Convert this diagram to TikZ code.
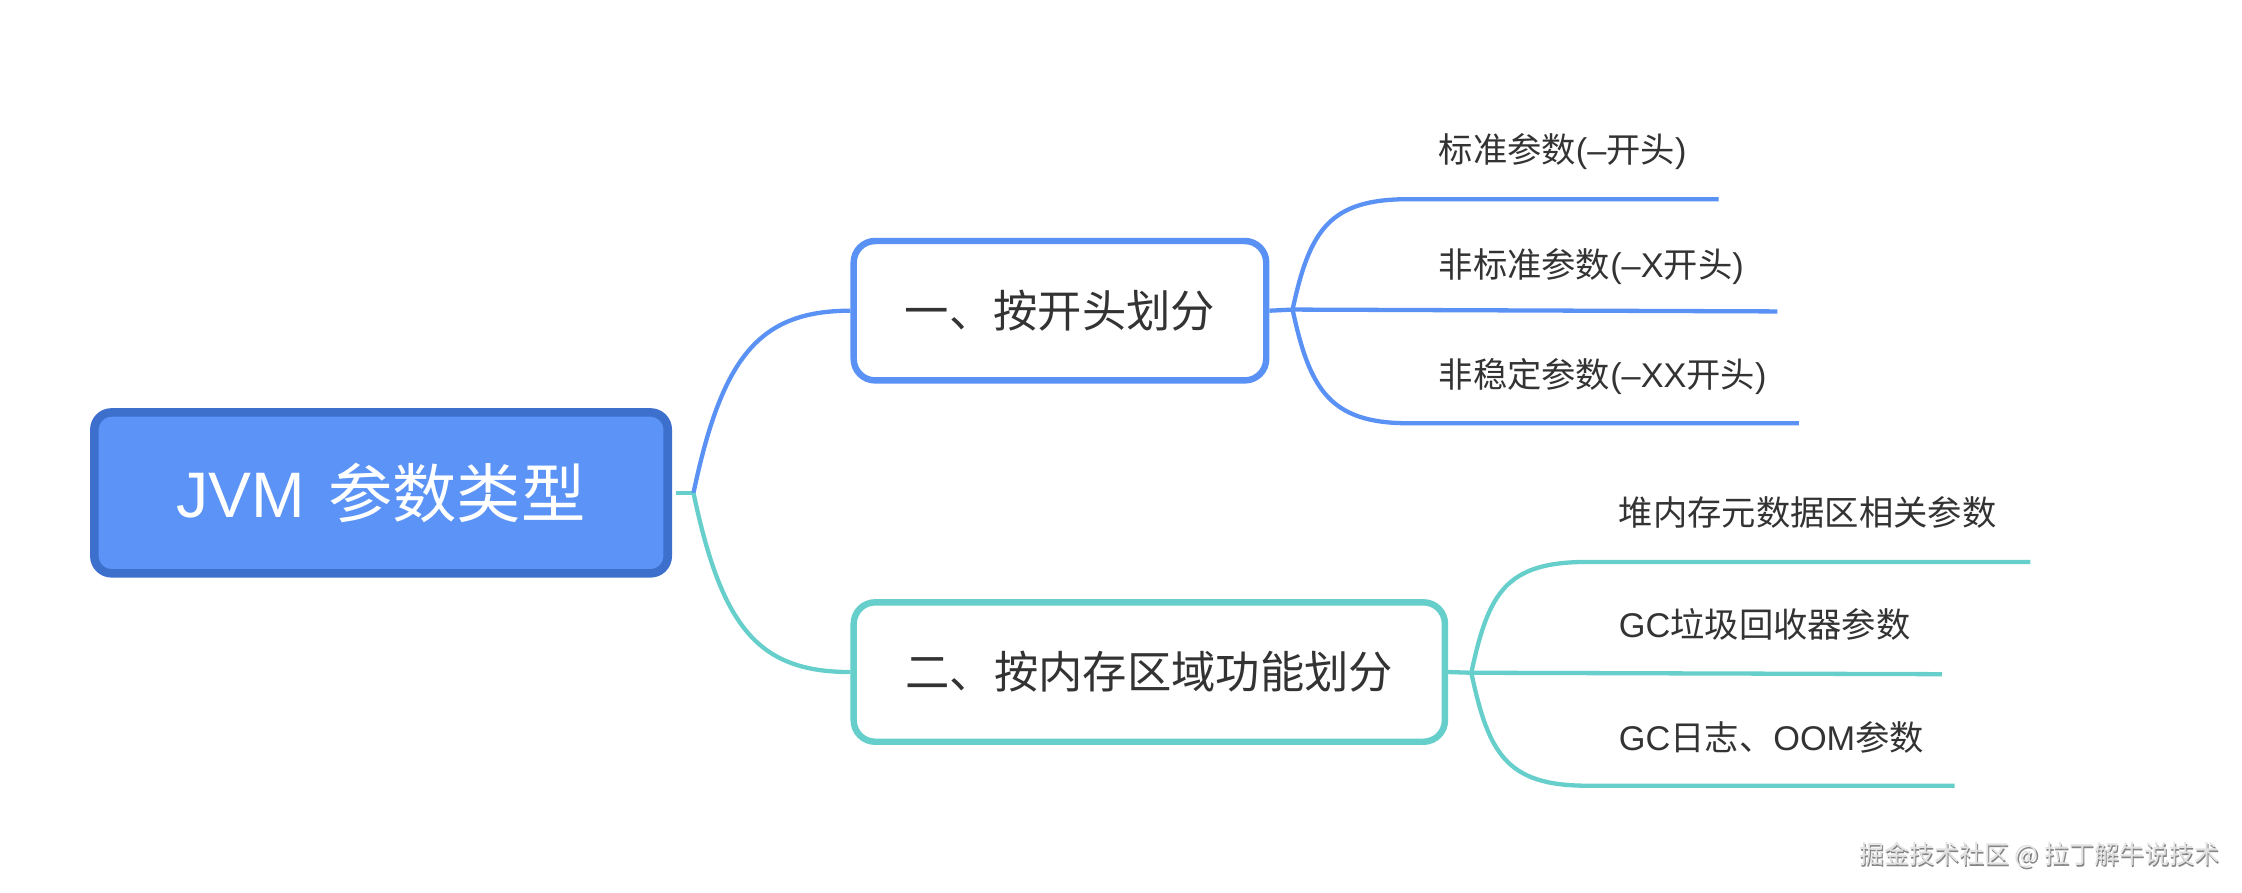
\documentclass[tikz,border=0pt]{standalone}
\usepackage{fontspec}
\setmainfont{Noto Sans CJK SC}
\newfontfamily\latf{Liberation Sans}
\newcommand\lt[1]{{\latf #1}}
\definecolor{mblue}{HTML}{5A91F5}
\definecolor{rootfill}{HTML}{5B93F6}
\definecolor{rootline}{HTML}{3D6FCD}
\definecolor{mteal}{HTML}{66CFCB}
\definecolor{txt}{HTML}{333333}
\definecolor{wmshadow}{HTML}{858585}
\definecolor{wmface}{HTML}{E2E2E2}
\tikzset{
  rootbox/.style={rectangle, rounded corners=12pt, fill=rootfill, draw=rootline,
    line width=6pt, minimum width=401pt, minimum height=112.5pt, inner sep=0pt,
    text=white, font=\fontsize{45}{50}\selectfont},
  subbox/.style={rectangle, rounded corners=15pt, fill=white, line width=4.5pt,
    minimum height=97.5pt, inner sep=0pt, text=txt, font=\fontsize{31}{36}\selectfont},
  leaftext/.style={anchor=base west, inner sep=0pt, text=txt, font=\fontsize{24}{28}\selectfont},
  conn/.style={line width=3pt},
  wmtext/.style={anchor=base west, inner sep=0pt, font=\fontsize{17.5}{20}\selectfont},
}
\begin{document}
\begin{tikzpicture}[x=1pt,y=-1pt]
\useasboundingbox[fill=white] (0,0) rectangle (1568,624);

% main nodes
\node[rootbox] (root) at (266.5,344.7) {\lt{JVM\hspace{0.36em}}参数类型};
\node[subbox, draw=mblue, minimum width=288.5pt] (b1) at (741.3,217.3) {一、按开头划分};
\node[subbox, draw=mteal, minimum width=413.5pt] (b2) at (803.8,470) {二、按内存区域功能划分};

% junctions and leaf line ends
\coordinate (rj) at (485,344.7);
\coordinate (j1) at (904,216.5);
\coordinate (j2) at (1029,470.5);
\coordinate (a1s) at (985,139.3);
\coordinate (a1e) at (1202,139.3);
\coordinate (a2e) at (1243,217.8);
\coordinate (a3s) at (985,296);
\coordinate (a3e) at (1258,296);
\coordinate (c1s) at (1110,393);
\coordinate (c1e) at (1420,393);
\coordinate (c2e) at (1358,471.5);
\coordinate (c3s) at (1110,549.5);
\coordinate (c3e) at (1367,549.5);

% root connectors
\draw[conn, mteal] ([xshift=3pt]root.east) -- (rj);
\draw[conn, mblue] (rj) .. controls +(20,-95) and +(-64,0) .. (b1.west);
\draw[conn, mteal] (rj) .. controls +(20,95) and +(-64,0) .. (b2.west);

% first group
\draw[conn, mblue] (b1.east) -- (j1);
\draw[conn, mblue] (j1) .. controls +(12,-56) and +(-55,0) .. (a1s) -- (a1e);
\draw[conn, mblue] (j1) -- (a2e);
\draw[conn, mblue] (j1) .. controls +(12,56) and +(-55,0) .. (a3s) -- (a3e);

% second group
\draw[conn, mteal] (b2.east) -- (j2);
\draw[conn, mteal] (j2) .. controls +(12,-56) and +(-57,0) .. (c1s) -- (c1e);
\draw[conn, mteal] (j2) -- (c2e);
\draw[conn, mteal] (j2) .. controls +(12,56) and +(-57,0) .. (c3s) -- (c3e);

% leaf labels
\node[leaftext] (a1) at (1006,113.4) {标准参数\lt{(–}开头\lt{)}};
\node[leaftext] (a2) at (1006,193.9) {非标准参数\lt{(–X}开头\lt{)}};
\node[leaftext] (a3) at (1006,271.1) {非稳定参数\lt{(–XX}开头\lt{)}};
\node[leaftext] (c1) at (1132,367.7) {堆内存元数据区相关参数};
\node[leaftext] (c2) at (1132,446.1) {\lt{GC}垃圾回收器参数};
\node[leaftext] (c3) at (1132,524.6) {\lt{GC}日志、\lt{OOM}参数};

% watermark
\node[wmtext, text=wmshadow] (wms) at (1301,605) {掘金技术社区 @ 拉丁解牛说技术};
\node[wmtext, text=wmface] (wm) at (1300,604) {掘金技术社区 @ 拉丁解牛说技术};
\end{tikzpicture}
\end{document}
